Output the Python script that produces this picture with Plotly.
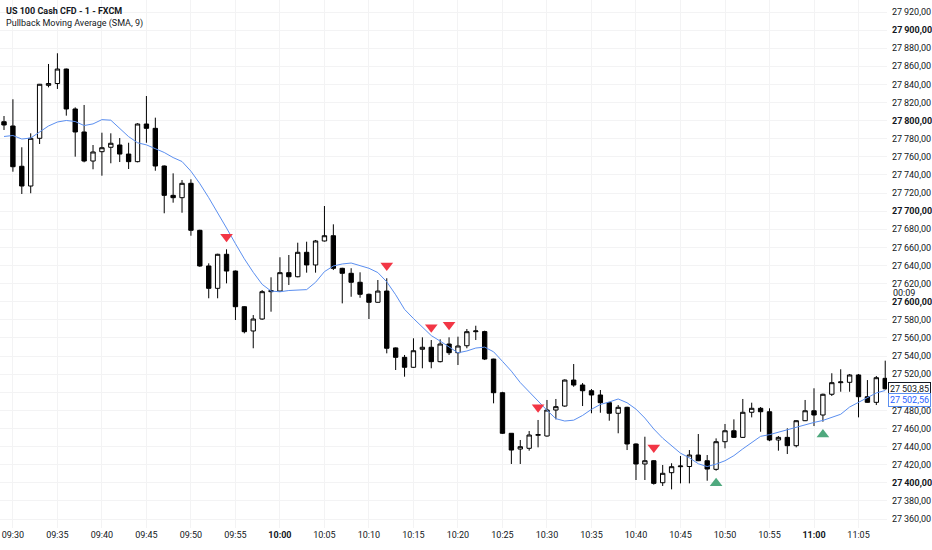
import pandas as pd
import plotly.graph_objects as go

# 1-minute candles, 09:29 .. 11:08
times = pd.date_range("2025-07-23 09:29", periods=100, freq="min")

opens = [
    27798.8, 27794.1, 27749.6, 27727.8, 27780.5, 27839.0, 27841.0, 27857.0, 27812.9, 27787.5,
    27755.4, 27765.7, 27770.6, 27773.1, 27763.1, 27754.7, 27796.3, 27791.5, 27749.9, 27717.5,
    27714.9, 27730.8, 27678.9, 27639.5, 27614.8, 27652.4, 27633.9, 27594.5, 27567.7, 27580.9,
    27611.1, 27611.8, 27632.1, 27627.6, 27654.6, 27640.6, 27667.1, 27672.9, 27636.9, 27631.4,
    27621.5, 27608.2, 27599.4, 27611.8, 27549.0, 27538.6, 27527.6, 27547.5, 27549.7, 27533.8,
    27553.3, 27543.7, 27551.4, 27566.9, 27567.0, 27536.7, 27499.5, 27454.7, 27437.3, 27438.1,
    27452.5, 27451.7, 27480.4, 27484.8, 27513.5, 27508.0, 27501.7, 27497.0, 27488.5, 27476.8,
    27483.4, 27442.9, 27420.8, 27424.4, 27400.1, 27411.2, 27417.8, 27418.0, 27430.7, 27424.4,
    27414.9, 27445.4, 27457.5, 27450.2, 27477.9, 27482.3, 27478.5, 27447.3, 27450.2, 27441.0,
    27468.6, 27479.6, 27474.9, 27497.8, 27510.6, 27511.0, 27519.1, 27495.1, 27488.9, 27515.4,
]
highs = [
    27805.1, 27823.6, 27770.6, 27786.0, 27840.5, 27862.6, 27874.4, 27857.5, 27814.7, 27817.3,
    27773.1, 27786.7, 27786.0, 27780.8, 27775.6, 27797.1, 27827.2, 27803.3, 27750.5, 27741.8,
    27734.4, 27735.2, 27679.5, 27642.4, 27653.0, 27657.9, 27634.5, 27595.0, 27585.3, 27612.9,
    27627.0, 27649.1, 27651.6, 27665.2, 27666.3, 27668.2, 27705.7, 27685.5, 27637.5, 27637.0,
    27632.5, 27609.0, 27624.0, 27625.9, 27549.5, 27541.2, 27559.6, 27560.7, 27557.7, 27558.5,
    27560.7, 27561.4, 27569.9, 27573.5, 27568.0, 27537.0, 27500.5, 27455.0, 27447.3, 27457.2,
    27469.4, 27491.5, 27492.6, 27514.3, 27531.2, 27510.2, 27503.6, 27502.5, 27489.5, 27485.9,
    27484.0, 27443.5, 27450.9, 27425.0, 27419.7, 27421.6, 27429.6, 27436.2, 27453.9, 27430.7,
    27449.1, 27465.0, 27470.1, 27492.6, 27488.5, 27483.7, 27482.3, 27451.7, 27460.2, 27469.0,
    27491.5, 27504.4, 27498.5, 27521.0, 27525.4, 27520.2, 27520.2, 27513.5, 27518.0, 27534.9,
]
lows = [
    27789.7, 27743.6, 27719.0, 27719.8, 27774.2, 27836.8, 27835.0, 27805.5, 27760.2, 27754.0,
    27746.3, 27739.2, 27752.9, 27754.3, 27746.6, 27754.0, 27775.6, 27744.7, 27697.7, 27709.4,
    27698.3, 27672.9, 27638.5, 27603.8, 27603.8, 27620.3, 27579.8, 27565.1, 27548.6, 27580.0,
    27589.0, 27611.0, 27618.5, 27627.0, 27632.1, 27632.1, 27666.5, 27635.0, 27598.2, 27605.5,
    27604.4, 27580.9, 27599.0, 27543.0, 27524.6, 27517.2, 27527.0, 27526.5, 27526.5, 27533.0,
    27541.2, 27530.1, 27548.6, 27557.7, 27535.6, 27487.8, 27454.0, 27420.8, 27420.8, 27435.5,
    27439.2, 27451.0, 27470.1, 27484.0, 27506.1, 27484.8, 27476.8, 27477.4, 27468.6, 27454.7,
    27436.2, 27403.1, 27403.1, 27398.0, 27396.5, 27392.8, 27399.4, 27399.4, 27424.0, 27402.3,
    27413.4, 27438.1, 27449.5, 27449.5, 27472.3, 27456.4, 27446.0, 27435.5, 27431.8, 27439.2,
    27468.2, 27462.7, 27467.5, 27495.9, 27500.6, 27500.6, 27472.3, 27494.5, 27485.9, 27503.0,
]
closes = [
    27795.2, 27749.1, 27727.8, 27780.5, 27840.2, 27841.0, 27857.0, 27812.9, 27787.5, 27755.4,
    27765.4, 27770.1, 27775.0, 27763.1, 27754.7, 27796.3, 27791.5, 27749.9, 27717.5, 27714.9,
    27730.8, 27678.9, 27639.5, 27614.8, 27652.4, 27633.9, 27594.5, 27566.9, 27580.9, 27611.1,
    27612.2, 27632.1, 27627.6, 27654.6, 27640.6, 27667.1, 27672.9, 27636.9, 27631.4, 27621.5,
    27608.2, 27599.4, 27611.8, 27548.6, 27538.6, 27527.6, 27545.9, 27549.7, 27533.8, 27553.3,
    27543.7, 27551.1, 27566.9, 27567.7, 27536.7, 27499.5, 27454.7, 27436.2, 27439.9, 27452.8,
    27453.2, 27480.4, 27484.1, 27513.5, 27508.0, 27501.7, 27497.0, 27488.5, 27476.8, 27483.4,
    27442.9, 27420.8, 27424.4, 27399.4, 27410.5, 27417.8, 27418.5, 27430.7, 27424.4, 27415.2,
    27445.4, 27457.5, 27450.2, 27477.9, 27482.3, 27478.5, 27447.3, 27450.2, 27441.0, 27468.6,
    27479.6, 27474.9, 27497.8, 27510.6, 27511.4, 27519.1, 27495.1, 27488.9, 27516.1, 27503.85,
]

# SMA values for the first 8 bars (earlier bars are off-screen)
sma_head = [27782.5, 27783.6, 27779.7, 27780.8, 27787.5, 27794.1, 27798.5, 27800.2]

sell_idx = [25, 43, 48, 50, 60, 73]
buy_idx = [80, 92]

last_close = 27503.85
last_sma = 27502.56

y_ticks = list(range(27360, 27921, 20))
x_ticks = pd.date_range("2025-07-23 09:30", "2025-07-23 11:05", freq="5min")


def fmt(v):
    return f"{v:,.2f}".replace(",", "\u2009").replace(".", ",")


sma = pd.Series(closes).rolling(9).mean()
sma[:8] = sma_head

font = "Roboto"
txt = "#131722"

fig = go.Figure()

fig.add_trace(go.Candlestick(
    x=times, open=opens, high=highs, low=lows, close=closes,
    increasing=dict(line=dict(color="#000000", width=1), fillcolor="#ffffff"),
    decreasing=dict(line=dict(color="#000000", width=1), fillcolor="#000000"),
    whiskerwidth=0,
    showlegend=False,
))

fig.add_trace(go.Scatter(
    x=times, y=sma, mode="lines",
    line=dict(color="#5b8ff0", width=1),
    showlegend=False,
))

fig.add_trace(go.Scatter(
    x=[times[i] for i in sell_idx], y=[highs[i] + 14 for i in sell_idx],
    mode="markers",
    marker=dict(symbol="triangle-down", size=11, color="#f23645"),
    showlegend=False,
))

fig.add_trace(go.Scatter(
    x=[times[i] for i in buy_idx], y=[lows[i] - 14 for i in buy_idx],
    mode="markers",
    marker=dict(symbol="triangle-up", size=11, color="#4fa97e"),
    showlegend=False,
))

y_text = []
for v in y_ticks:
    if v == 27500:
        y_text.append("")
    elif v % 100 == 0:
        y_text.append("<b>" + fmt(v) + "</b>")
    else:
        y_text.append(fmt(v))

x_text = []
for t in x_ticks:
    s = t.strftime("%H:%M")
    x_text.append("<b>" + s + "</b>" if t.minute == 0 else s)

fig.update_layout(
    width=932, height=550,
    margin=dict(l=0, r=45, t=0, b=22),
    paper_bgcolor="#ffffff", plot_bgcolor="#ffffff",
    font=dict(family=font, size=9, color=txt),
    hovermode=False,
    xaxis=dict(
        range=[pd.Timestamp("2025-07-23 09:28:33"), pd.Timestamp("2025-07-23 11:08:12")],
        tickvals=x_ticks, ticktext=x_text,
        showgrid=True, gridcolor="#f3f3f4", gridwidth=1,
        zeroline=False, showline=False, ticks="",
        rangeslider=dict(visible=False),
        automargin=False,
        tickfont=dict(size=9, color=txt),
    ),
    yaxis=dict(
        side="right", range=[27350.1, 27933.25],
        tickvals=y_ticks, ticktext=y_text,
        showgrid=True, gridcolor="#f3f3f4", gridwidth=1,
        zeroline=False, showline=False, ticks="",
        ticklabelstandoff=4,
        automargin=False,
        tickfont=dict(size=9, color=txt),
    ),
)

fig.add_annotation(
    xref="paper", yref="paper", x=0.004, y=1, yshift=-4,
    xanchor="left", yanchor="top", showarrow=False,
    text="<b>US 100 Cash CFD - 1 - FXCM</b>",
    font=dict(size=9, color=txt),
)
fig.add_annotation(
    xref="paper", yref="paper", x=0.004, y=1, yshift=-16,
    xanchor="left", yanchor="top", showarrow=False,
    text="Pullback Moving Average (SMA, 9)",
    font=dict(size=9, color=txt),
)

fig.add_annotation(
    xref="paper", yref="y", x=1, y=last_close, xshift=1,
    xanchor="left", yanchor="middle", showarrow=False,
    text=fmt(last_close), font=dict(size=9, color=txt),
    bgcolor="#ffffff", bordercolor="#131722", borderwidth=1, borderpad=1,
)
fig.add_annotation(
    xref="paper", yref="y", x=1, y=last_sma, xshift=1, yshift=-10,
    xanchor="left", yanchor="middle", showarrow=False,
    text=fmt(last_sma), font=dict(size=9, color="#2962ff"),
    bgcolor="#ffffff", bordercolor="#5b8ff0", borderwidth=1, borderpad=1,
)
fig.add_annotation(
    xref="paper", yref="y", x=1, y=27610, xshift=4,
    xanchor="left", yanchor="middle", showarrow=False,
    text="00:09", font=dict(size=9, color=txt),
)

# page body has a default 8px margin; drop it so the figure fills the window
fig.write_html(
    "out.html",
    config={"displayModeBar": False},
    post_script="document.body.style.margin='0';",
)
